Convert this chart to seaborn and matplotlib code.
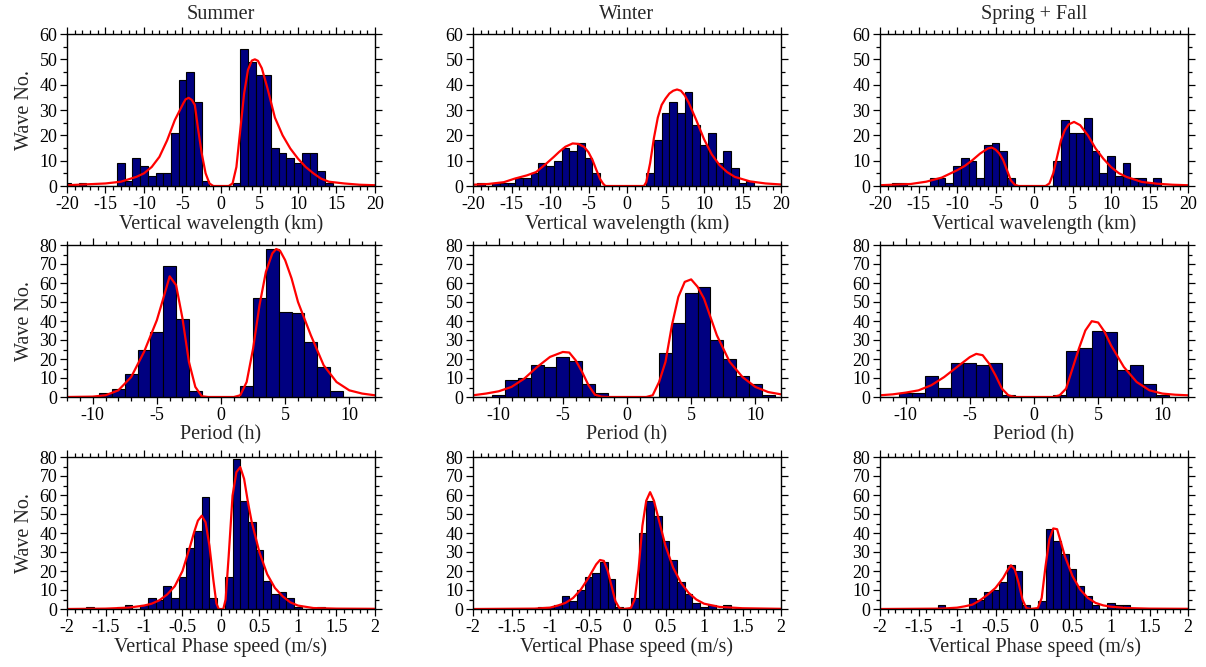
import matplotlib
matplotlib.use("Agg")
import matplotlib.pyplot as plt
from matplotlib.ticker import MultipleLocator, FuncFormatter
import seaborn as sns

# ---------------- data ----------------
seasons = ["Summer", "Winter", "Spring + Fall"]
x_labels = ["Vertical wavelength (km)", "Period (h)", "Vertical Phase speed (m/s)"]

# Vertical wavelength histograms (bin centres, km ; counts)
summer_wl_centers = [-20, -18, -13, -12, -11, -10, -9, -8, -7, -6, -5, -4, -3, -2,
                     2, 3, 4, 5, 6, 7, 8, 9, 10, 11, 12, 13, 14]
summer_wl_counts = [1, 1, 9, 2, 11, 8, 4, 5, 5, 21, 42, 45, 33, 2,
                    1, 54, 49, 44, 44, 15, 13, 11, 9, 13, 13, 6, 1]
winter_wl_centers = [-19, -17, -16, -15, -14, -13, -12, -11, -10, -9, -8, -7, -6, -5, -4,
                     3, 4, 5, 6, 7, 8, 9, 10, 11, 12, 13, 14, 15, 16]
winter_wl_counts = [1, 1, 1, 1, 3, 3, 5, 9, 8, 10, 15, 14, 17, 11, 5,
                    5, 18, 29, 33, 29, 37, 24, 16, 21, 9, 14, 7, 1, 2]
spring_wl_centers = [-18, -17, -13, -12, -11, -10, -9, -8, -7, -6, -5, -4, -3,
                     3, 4, 5, 6, 7, 8, 9, 10, 11, 12, 13, 14, 15, 16]
spring_wl_counts = [1, 1, 3, 3, 1, 8, 11, 10, 3, 16, 17, 14, 3,
                    10, 26, 21, 21, 27, 14, 5, 12, 4, 9, 3, 3, 1, 3]

# Period histograms (h)
summer_per_centers = [-9, -8, -7, -6, -5, -4, -3, -2, 2, 3, 4, 5, 6, 7, 8, 9]
summer_per_counts = [2, 4, 12, 25, 34, 69, 41, 3, 6, 52, 78, 45, 44, 29, 16, 3]
winter_per_centers = [-10, -9, -8, -7, -6, -5, -4, -3, -2, 3, 4, 5, 6, 7, 8, 9, 10, 11]
winter_per_counts = [1, 9, 10, 17, 16, 21, 19, 7, 2, 23, 39, 55, 58, 30, 20, 11, 7, 1]
spring_per_centers = [-10, -9, -8, -7, -6, -5, -4, -3, -2, 2, 3, 4, 5, 6, 7, 8, 9, 10]
spring_per_counts = [2, 2, 11, 5, 18, 18, 17, 18, 1, 1, 24, 26, 35, 34, 14, 17, 7, 1]

# Vertical phase speed histograms (m/s)
summer_spd_centers = [-1.7, -1.3, -1.2, -1.0, -0.9, -0.8, -0.7, -0.6, -0.5, -0.4, -0.3, -0.2, -0.1,
                      0.1, 0.2, 0.3, 0.4, 0.5, 0.6, 0.7, 0.8, 0.9, 1.0, 1.3]
summer_spd_counts = [1, 1, 2, 2, 6, 5, 12, 6, 17, 32, 41, 59, 6,
                     17, 79, 57, 46, 31, 15, 8, 9, 6, 1, 1]
winter_spd_centers = [-1.1, -1.0, -0.9, -0.8, -0.7, -0.6, -0.5, -0.4, -0.3, -0.2, -0.1,
                      0.1, 0.2, 0.3, 0.4, 0.5, 0.6, 0.7, 0.8, 0.9, 1.0, 1.1, 1.3]
winter_spd_counts = [1, 1, 2, 7, 4, 10, 17, 19, 25, 16, 1,
                     6, 40, 57, 49, 36, 26, 14, 8, 3, 1, 2, 2]
spring_spd_centers = [-1.2, -0.8, -0.7, -0.6, -0.5, -0.4, -0.3, -0.2, -0.1,
                      0.1, 0.2, 0.3, 0.4, 0.5, 0.6, 0.7, 0.8, 1.0, 1.1, 1.2]
spring_spd_counts = [2, 6, 5, 9, 10, 14, 23, 20, 2,
                     4, 42, 36, 29, 21, 12, 7, 2, 3, 2, 2]

# Fitted curves
summer_wl_fit_x = [-20, -15, -13, -11, -10, -9, -8, -7, -6, -4.9, -4.6, -4.2, -3.8, -3.4, -3, -2.5, -2, -1.5, -1,
                   1, 1.5, 2, 2.5, 3, 3.5, 4, 4.4, 4.8, 5.3, 6, 7, 8, 9, 10, 11, 12, 13, 14, 16, 18, 20]
summer_wl_fit_y = [0.3, 1, 1.7, 3.6, 5, 7.5, 11.5, 18, 26, 32.6, 34.2, 34.8, 34, 32, 23, 12.8, 5, 1, 0,
                   0, 1, 7.5, 22, 36.5, 45.8, 49.5, 50, 49.4, 46.5, 39, 27, 20, 14.8, 10.8, 7.5, 5, 2.9, 1.7, 1, 0.5, 0.3]
winter_wl_fit_x = [-20, -18, -16, -14.6, -13, -11.8, -10.5, -9.5, -8.8, -8, -7.06, -6.3, -5.55, -5, -4.47, -4, -3.5, -3.1, -2.8,
                   2.2, 2.5, 3, 3.5, 4, 4.5, 5, 5.5, 6, 6.5, 7, 7.5, 8, 9, 10, 11, 12, 13, 14, 16, 18, 20]
winter_wl_fit_y = [0.5, 0.8, 1.5, 2.9, 4.2, 5.5, 8.8, 11.5, 13.5, 15.5, 16.8, 16.6, 15.4, 13.3, 10.2, 6.5, 2.8, 0.9, 0,
                   0, 1.5, 9, 19, 27, 32, 34.5, 36.5, 37.6, 38.1, 37.6, 35.8, 33, 26, 18.5, 12.5, 8.3, 5.5, 3.6, 1.8, 1, 0.6]
spring_wl_fit_x = [-20, -16, -14, -12, -10, -9, -8, -7, -6, -5.5, -5, -4.5, -4, -3.5, -3, -2.5, -2,
                   1.5, 2, 2.5, 3, 3.5, 4, 4.5, 5.2, 6, 7, 8, 9, 10, 11, 12, 14, 16, 18, 20]
spring_wl_fit_y = [0.3, 0.8, 1.7, 3.3, 6.2, 7.9, 10.2, 12.8, 14.8, 15.2, 14.4, 12.8, 10.2, 6.2, 2.2, 0.5, 0,
                   0, 1, 5, 11.5, 18, 22, 24.3, 25.3, 24, 20, 14.8, 10.8, 7.5, 5.1, 3.6, 1.6, 0.9, 0.5, 0.3]

summer_per_fit_x = [-12, -10, -9, -8, -7, -6, -5, -4.5, -4, -3.5, -3, -2.5, -2, -1.5, -1,
                    1, 1.5, 2, 2.5, 3, 3.5, 4, 4.3, 4.6, 5, 5.5, 6, 7, 8, 9, 10, 11, 12]
summer_per_fit_y = [0, 0.2, 0.9, 3.5, 10.5, 23.7, 40.4, 51.8, 63.5, 58.9, 41.3, 18.5, 5.3, 0.4, 0,
                    0, 0.9, 7.9, 25.5, 48.3, 65.9, 75.6, 77.9, 77, 72, 62.4, 50, 32.5, 16.7, 7.9, 3.5, 1.8, 0.9]
winter_per_fit_x = [-12, -11, -10, -9, -8, -7, -6, -5, -4.5, -4, -3.5, -3, -2.5, -2, -1.5,
                    1.5, 2, 2.5, 3, 3.5, 4, 4.5, 5, 5.5, 6, 7, 8, 9, 10, 11, 12]
winter_per_fit_y = [0.9, 1.8, 3, 5.3, 9.7, 15.8, 21.1, 23.7, 23.4, 19.3, 13.2, 6.2, 1.2, 0.2, 0,
                    0, 0.9, 7.9, 18.5, 37.8, 52.7, 60.6, 61.9, 58, 51.8, 32.5, 18.5, 10.5, 5.3, 2.6, 1.4]
spring_per_fit_x = [-12, -11, -10, -9, -8, -7, -6, -5, -4.5, -4, -3.5, -3, -2.5, -2, -1.5,
                    1.5, 2, 2.5, 3, 3.5, 4, 4.5, 5, 5.5, 6, 7, 8, 9, 10, 11, 12]
spring_per_fit_y = [0.9, 1.4, 2.3, 3.5, 6.2, 10.5, 15.8, 21, 22.7, 22, 17.6, 11.4, 4.4, 0.9, 0,
                    0, 0.9, 4.4, 15, 25.5, 35, 39.9, 39.2, 34.3, 27.2, 15.8, 7.9, 3.5, 1.8, 1.2, 0.9]

summer_spd_fit_x = [-2, -1.5, -1.2, -1, -0.9, -0.8, -0.7, -0.6, -0.5, -0.4, -0.35, -0.3, -0.25, -0.2, -0.15, -0.1, -0.06, -0.03,
                    0.03, 0.06, 0.1, 0.15, 0.2, 0.25, 0.3, 0.35, 0.4, 0.5, 0.6, 0.7, 0.8, 0.9, 1.0, 1.2, 1.5, 2]
summer_spd_fit_y = [0, 0.2, 0.7, 1.8, 2.8, 4.6, 7.6, 12, 20, 33.2, 40.3, 46.5, 49.1, 45.6, 33.2, 15.5, 3, 0,
                    0, 5, 28, 59.7, 72, 74.7, 68.5, 56.2, 45.6, 29.7, 18.3, 11.1, 6.7, 3.5, 1.8, 0.5, 0.2, 0.1]
winter_spd_fit_x = [-2, -1.2, -1, -0.9, -0.8, -0.7, -0.6, -0.5, -0.4, -0.35, -0.3, -0.25, -0.2, -0.15, -0.1, -0.05,
                    0.05, 0.1, 0.15, 0.2, 0.25, 0.3, 0.35, 0.4, 0.5, 0.6, 0.7, 0.8, 0.9, 1.0, 1.2, 1.5, 2]
winter_spd_fit_y = [0, 0.2, 0.7, 1.8, 3.2, 5.8, 10.2, 16.4, 23.5, 25.8, 25.3, 20, 12, 4.1, 0.5, 0,
                    0.5, 5, 20.8, 43.8, 57, 61.5, 57, 49, 33.2, 21.7, 13.8, 8.5, 5, 2.8, 1.1, 0.4, 0.1]
spring_spd_fit_x = [-2, -1.2, -1, -0.9, -0.8, -0.7, -0.6, -0.5, -0.4, -0.35, -0.3, -0.25, -0.2, -0.15, -0.1, -0.05,
                    0.05, 0.1, 0.15, 0.2, 0.25, 0.3, 0.35, 0.4, 0.5, 0.6, 0.7, 0.8, 0.9, 1.0, 1.2, 1.5, 2]
spring_spd_fit_y = [0, 0.2, 0.7, 1.4, 2.3, 4.6, 7.6, 11.1, 16.4, 20, 23, 20.8, 13.8, 5, 0.5, 0,
                    0.5, 5.8, 22.6, 36.7, 42.4, 42, 35, 27.9, 17.3, 10.2, 5.8, 3.2, 1.9, 1.2, 0.5, 0.2, 0.1]

hist_data = [
    [(summer_wl_centers, summer_wl_counts), (winter_wl_centers, winter_wl_counts), (spring_wl_centers, spring_wl_counts)],
    [(summer_per_centers, summer_per_counts), (winter_per_centers, winter_per_counts), (spring_per_centers, spring_per_counts)],
    [(summer_spd_centers, summer_spd_counts), (winter_spd_centers, winter_spd_counts), (spring_spd_centers, spring_spd_counts)],
]
fit_data = [
    [(summer_wl_fit_x, summer_wl_fit_y), (winter_wl_fit_x, winter_wl_fit_y), (spring_wl_fit_x, spring_wl_fit_y)],
    [(summer_per_fit_x, summer_per_fit_y), (winter_per_fit_x, winter_per_fit_y), (spring_per_fit_x, spring_per_fit_y)],
    [(summer_spd_fit_x, summer_spd_fit_y), (winter_spd_fit_x, winter_spd_fit_y), (spring_spd_fit_x, spring_spd_fit_y)],
]

# ---------------- style / layout ----------------
sns.set_style("ticks")
plt.rcParams["font.family"] = ["Liberation Serif", "DejaVu Serif"]
plt.rcParams["axes.unicode_minus"] = False

row_cfg = [
    dict(xlim=(-20, 20), binwidth=1, binrange=(-20.5, 20.5), xmajor=5, xminor=1, ylim=(0, 60)),
    dict(xlim=(-12, 12), binwidth=1, binrange=(-12.5, 12.5), xmajor=5, xminor=1, ylim=(0, 80)),
    dict(xlim=(-2, 2), binwidth=0.1, binrange=(-2.05, 2.05), xmajor=0.5, xminor=0.1, ylim=(0, 80)),
]

W, H = 1206, 667
fig = plt.figure(figsize=(W / 100, H / 100), dpi=100)
lefts = [67, 473, 880]
tops = [34, 245, 457]
aw, ah = 308, 152

fmt = FuncFormatter(lambda v, p: "%g" % round(v, 3))

for r in range(3):
    cfg = row_cfg[r]
    for c in range(3):
        ax = fig.add_axes([lefts[c] / W, 1 - (tops[r] + ah) / H, aw / W, ah / H])
        centers, counts = hist_data[r][c]
        sns.histplot(x=centers, weights=counts, binwidth=cfg["binwidth"], binrange=cfg["binrange"],
                     color="#000080", edgecolor="black", linewidth=0.8, alpha=1.0, ax=ax)
        fx, fy = fit_data[r][c]
        sns.lineplot(x=fx, y=fy, color="red", linewidth=1.6, estimator=None, ax=ax)
        ax.set_xlim(*cfg["xlim"])
        ax.set_ylim(*cfg["ylim"])
        ax.xaxis.set_major_locator(MultipleLocator(cfg["xmajor"]))
        ax.xaxis.set_minor_locator(MultipleLocator(cfg["xminor"]))
        ax.yaxis.set_major_locator(MultipleLocator(10))
        ax.yaxis.set_minor_locator(MultipleLocator(5))
        ax.xaxis.set_major_formatter(fmt)
        ax.tick_params(which="both", direction="out", top=True, right=True,
                       labeltop=False, labelright=False, width=0.9, colors="black", labelsize=13)
        ax.tick_params(which="major", length=5, pad=2)
        ax.tick_params(which="minor", length=3)
        for s in ax.spines.values():
            s.set_visible(True)
            s.set_linewidth(1.0)
            s.set_color("black")
        ax.set_xlabel(x_labels[r], fontsize=14.5, labelpad=1)
        if c == 0:
            ax.set_ylabel("Wave No.", fontsize=14.5, labelpad=4)
        else:
            ax.set_ylabel("")
        if r == 0:
            ax.set_title(seasons[c], fontsize=14.5, pad=11)

fig.savefig("out.png", dpi=100)
